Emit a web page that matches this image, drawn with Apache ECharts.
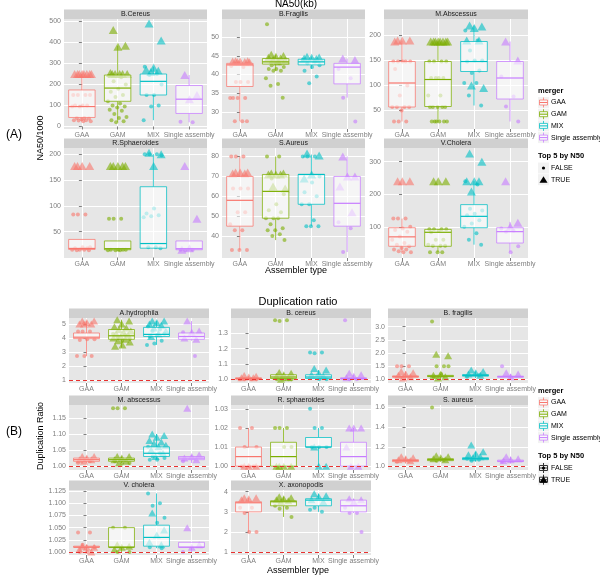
<!DOCTYPE html>
<html>
<head>
<meta charset="utf-8">
<script src="https://cdn.jsdelivr.net/npm/echarts@6/dist/echarts.min.js"></script>
<style>
  html, body {margin: 0; padding: 0; background: #fff;}
  #chart {width: 600px; height: 575px;}
</style>
</head>
<body>
<div id="chart"></div>
<script>
const GROUPS = ["GAA", "GAM", "MIX", "Single assembly"];
const GROUP_COLORS = ["#F8766D", "#7CAE00", "#00BFC4", "#C77CFF"];

// ---- (A) NA50(kb) ----
const NA50_FACETS = ["B.Cereus", "B.Fragilis", "M.Abscessus", "R.Sphaeroides", "S.Aureus", "V.Cholera"];
const NA50_RANGE = [[-12, 512], [25.4, 54.9], [13, 233], [-1, 212], [29, 84.3], [4, 342]];
const NA50_TICKS = [
  ["0", "100", "200", "300", "400", "500"],
  ["30", "35", "40", "45", "50"],
  ["50", "100", "150", "200"],
  ["50", "100", "150", "200"],
  ["40", "50", "60", "70", "80"],
  ["100", "200", "300"],
];
// [lower whisker, Q1, median, Q3, upper whisker] for GAA, GAM, MIX, Single assembly
const NA50_BOX = [
  [[25, 43, 95, 174, 250], [20, 120, 183, 245, 385], [30, 150, 215, 250, 285], [20, 62, 130, 195, 245]],
  [[27.5, 36.8, 42.6, 43.0, 43.6], [41, 42.8, 43.4, 44.3, 45.3], [41.5, 42.6, 43.4, 44.1, 44.8], [33.8, 37.5, 42, 43, 44.3]],
  [[28, 57, 105, 148, 190], [28, 58, 112, 148, 188], [60, 128, 148, 188, 220], [28, 73, 115, 148, 188]],
  [[14, 15.6, 17.5, 35, 35], [14, 15, 17, 32, 32], [18, 18, 27, 137, 200], [14, 15, 17, 32, 32]],
  [[33, 45, 58, 70, 80], [38, 49, 62.5, 71, 80], [45, 56, 71, 71, 81], [32, 45, 56.5, 70, 80]],
  [[22, 40, 69, 97, 125], [22, 40, 83, 92, 92], [45, 97, 132, 168, 240], [22, 50, 85, 97, 115]],
];
// points where Top 5 by N50 is FALSE
const NA50_FALSE = [
  [[150, 150, 150, 150, 100, 100, 100, 95, 95, 40, 40, 38, 35, 30, 30, 28, 25, 25],
   [240, 235, 215, 200, 180, 165, 150, 140, 120, 110, 100, 95, 90, 80, 75, 60, 45, 40, 30, 25, 20],
   [285, 250, 245, 200, 150, 150, 100, 95, 30],
   [22, 20]],
  [[42.3, 42, 38, 38, 38, 33.7, 33.7, 33.7, 33.7, 27.5, 27.5, 27.5],
   [53.5, 43, 42.5, 42, 41.5, 41.5, 41, 41, 39, 37.5, 37, 33.8],
   [44, 43.5, 43, 42.5, 42, 41, 39.5, 37.7],
   [41.5, 39, 33.8, 27.4]],
  [[148, 148, 148, 148, 148, 133, 100, 80, 57, 57, 57, 57, 50, 28, 28, 28],
   [148, 148, 148, 148, 115, 115, 115, 115, 80, 80, 57, 57, 57, 57, 57, 28, 28, 28, 28, 28, 28],
   [210, 190, 170, 150, 150, 148, 130, 125, 105, 105, 80, 60],
   [118, 78, 58, 28]],
  [[83, 83, 83, 20, 20, 18, 18, 15, 15, 15, 14, 14],
   [75, 75, 75, 15, 15, 15, 15, 14, 14, 14],
   [200, 200, 200, 198, 95, 85, 82, 80, 78, 20, 20, 18],
   [15, 15, 14]],
  [[80, 80, 80, 64, 64, 64, 52, 52, 46, 43, 43, 33, 33, 33],
   [80, 80, 69, 61, 56, 53, 52, 49, 49, 49, 46, 44, 43, 43, 41, 40, 38],
   [80, 80, 80, 70, 67, 62, 60, 56, 56, 48, 45, 45, 45],
   [47, 44, 32]],
  [[125, 125, 125, 100, 95, 90, 85, 70, 60, 50, 45, 40, 35, 30, 30, 25, 22, 22],
   [92, 92, 92, 92, 88, 83, 60, 60, 45, 42, 42, 42, 22, 22, 22],
   [240, 230, 155, 150, 140, 135, 120, 110, 100, 80, 60, 45],
   [95, 88, 85, 40, 22]],
];
// points where Top 5 by N50 is TRUE
const NA50_TRUE = [
  [[250, 250, 250, 250, 250, 250, 250, 250], [460, 385, 380, 255, 250, 250, 250, 250, 250], [490, 410, 280, 270, 265, 260], [245, 150, 130]],
  [[43.6, 43.6, 43.5, 43.5, 43.4, 43.4, 43.3], [45.3, 45, 44.8, 44.5, 44.3, 44, 43.8, 43.5], [44.8, 44.6, 44.5, 44.3, 44.2], [44.3, 43.9]],
  [[190, 190, 190, 188], [188, 188, 188, 188, 188, 188, 188, 188], [220, 218, 215, 190, 190, 100, 95], [188, 150]],
  [[177, 177, 177, 177], [177, 177, 177, 177, 177], [203, 200, 177], [177, 75, 18, 15]],
  [[72, 72, 72, 71.5, 71.5], [71.5, 71.5, 71, 71, 71, 65, 64], [81.5, 80.5, 71, 69], [80, 70, 70, 65, 52]],
  [[240, 240, 240], [240, 240, 240], [325, 300, 240, 240, 240, 208], [240, 112, 100]],
];

// ---- (B) Duplication ratio ----
const DUP_FACETS = ["A.hydrophila", "B. cereus", "B. fragilis", "M. abscessus", "R. sphaeroides", "S. aureus", "V. cholera", "X. axonopodis"];
const DUP_RANGE = [[0.78, 5.42], [0.976, 1.40], [0.86, 3.33], [0.988, 1.19], [0.998, 1.032], [0.965, 1.625], [0.994, 1.127], [0.87, 4.08]];
const DUP_TICKS = [
  ["1", "2", "3", "4", "5"],
  ["1.0", "1.1", "1.2", "1.3"],
  ["1.0", "1.5", "2.0", "2.5", "3.0"],
  ["1.00", "1.05", "1.10", "1.15"],
  ["1.00", "1.01", "1.02", "1.03"],
  ["1.0", "1.2", "1.4", "1.6"],
  ["1.000", "1.025", "1.050", "1.075", "1.100", "1.125"],
  ["1", "2", "3", "4"],
];
const DUP_BOX = [
  [[2.7, 3.95, 4.05, 4.35, 5.2], [3.3, 3.9, 4.15, 4.6, 5.3], [3.5, 4.1, 4.25, 4.75, 5.2], [3.8, 3.9, 4.1, 4.35, 5.2]],
  [[1.0, 1.0, 1.005, 1.01, 1.02], [1.0, 1.005, 1.015, 1.03, 1.04], [1.0, 1.005, 1.015, 1.03, 1.06], [1.0, 1.0, 1.005, 1.01, 1.03]],
  [[1.0, 1.08, 1.1, 1.13, 1.3], [1.0, 1.1, 1.12, 1.15, 1.2], [1.05, 1.12, 1.15, 1.18, 1.3], [1.0, 1.08, 1.1, 1.12, 1.2]],
  [[1.01, 1.015, 1.02, 1.025, 1.03], [1.01, 1.015, 1.02, 1.025, 1.03], [1.02, 1.03, 1.04, 1.06, 1.1], [1.01, 1.02, 1.025, 1.03, 1.035]],
  [[1.0, 1.0, 1.005, 1.01, 1.02], [1.0, 1.0, 1.005, 1.0125, 1.02], [1.0, 1.01, 1.01, 1.015, 1.02], [1.0, 1.0, 1.005, 1.0125, 1.02]],
  [[1.03, 1.05, 1.06, 1.07, 1.1], [1.05, 1.06, 1.07, 1.08, 1.1], [1.05, 1.07, 1.08, 1.09, 1.15], [1.03, 1.05, 1.055, 1.065, 1.1]],
  [[1.0, 1.01, 1.01, 1.012, 1.015], [1.0, 1.01, 1.01, 1.05, 1.05], [1.008, 1.012, 1.03, 1.055, 1.12], [1.0, 1.01, 1.01, 1.02, 1.02]],
  [[2.0, 3.0, 3.45, 3.5, 3.7], [2.75, 3.3, 3.5, 3.55, 3.75], [3.0, 3.3, 3.58, 3.65, 3.9], [2.95, 3.0, 3.3, 3.58, 3.65]],
];
const DUP_FALSE = [
  [[4.45, 4.45, 4.45, 3.9, 3.9, 3.85, 2.7, 2.7, 2.7], [4.3, 4.2, 4.0, 3.9, 3.8], [4.8, 4.6, 4.5, 4.3, 4.2, 4.1, 3.8, 3.6, 3.5], [4.4, 2.7]],
  [[1.0, 1.0, 1.0, 1.0], [1.385, 1.385, 1.38, 1.0, 1.0, 1.0, 1.0, 1.005], [1.175, 1.175, 1.17, 1.0, 1.0], [1.385, 1.0, 1.0]],
  [[1.5, 1.5, 1.5], [3.2, 1.5, 1.5, 1.5, 1.2, 1.1], [1.1, 1.15], [1.5]],
  [[1.01, 1.015], [1.18, 1.18, 1.18, 1.01, 1.01, 1.015], [1.06, 1.04, 1.03, 1.025, 1.02, 1.02], [1.015]],
  [[1.02, 1.02, 1.01, 1.01, 1.0, 1.0, 1.0], [1.02, 1.02, 1.02, 1.01, 1.01], [1.03, 1.02, 1.02, 1.01, 1.01, 1.01], []],
  [[1.05, 1.06], [1.6, 1.07, 1.06], [1.08, 1.07, 1.06], [1.05]],
  [[1.04, 1.04, 1.015, 1.01, 1.0, 1.0], [1.05, 1.05, 1.0, 1.0], [1.12, 1.1, 1.095, 1.07, 1.06, 1.01, 1.008], [1.0]],
  [[3.2, 3.2, 2.95, 2.0, 2.0], [3.3, 3.2, 3.15, 2.75], [3.1, 3.0, 3.2], [3.2, 2.95, 2.95, 2.0]],
];
const DUP_TRUE = [
  [[5.2, 5.2, 5.1, 5.0, 5.0, 5.0], [5.3, 5.2, 5.0, 4.8, 4.7, 4.6, 4.5, 4.4, 4.3, 4.2, 4.1, 4.0, 3.9, 3.8, 3.7, 3.5, 3.4], [5.2, 5.2, 5.1, 5.0, 4.9, 4.7, 4.5, 4.3, 4.1], [5.2, 4.5, 4.4, 4.0, 3.9]],
  [[1.025, 1.02, 1.015, 1.01, 1.01], [1.045, 1.04, 1.03, 1.02, 1.01, 1.0], [1.07, 1.06, 1.04, 1.03, 1.02], [1.04, 1.03, 1.02, 1.01]],
  [[1.3, 1.25, 1.2, 1.15, 1.1, 1.05], [1.95, 1.9, 1.2, 1.15, 1.1, 1.05], [1.35, 1.3, 1.25, 1.2, 1.15], [1.25, 1.2, 1.1]],
  [[1.03, 1.03, 1.025, 1.02, 1.02, 1.015], [1.03, 1.03, 1.025, 1.02, 1.015, 1.01], [1.1, 1.095, 1.09, 1.08, 1.075, 1.07, 1.065, 1.06, 1.05, 1.04, 1.03], [1.18, 1.035, 1.03, 1.025, 1.02]],
  [[1.0, 1.0, 1.0], [1.0, 1.0, 1.0, 1.0], [1.01, 1.0, 1.0], [1.02, 1.02, 1.02, 1.01, 1.0, 1.0]],
  [[1.1, 1.09, 1.08, 1.07, 1.06], [1.11, 1.1, 1.09, 1.08, 1.07], [1.22, 1.15, 1.13, 1.12, 1.1, 1.09], [1.1, 1.08, 1.07, 1.06]],
  [[1.012, 1.01, 1.01, 1.005, 1.0], [1.015, 1.012, 1.01, 1.005], [1.08, 1.045, 1.035, 1.02, 1.015], [1.05, 1.015, 1.01]],
  [[3.7, 3.7, 3.65, 3.6], [3.75, 3.7, 3.65, 3.6, 3.55, 3.5], [3.9, 3.8, 3.75, 3.6, 3.5], [3.65, 3.6, 3.5]],
];

const FONT = '"Liberation Sans", Arial, sans-serif';
const AXIS_GREY = "#7F7F7F";
const PANEL_BG = "#E6E6E6";
const STRIP_BG = "#D0D0D0";

const A_LAYOUT = {cols: [[64, 207], [222, 365], [384, 528]], rows: [[19, 129], [148, 258]], tri: [9, 8]};
const B_LAYOUT = {cols: [[69, 209], [231, 371], [388, 528]], rows: [[318, 383], [405, 470], [490, 555]], tri: [8, 7]};

function alpha(hex, a) {
  const n = parseInt(hex.slice(1), 16);
  return `rgba(${n >> 16},${(n >> 8) & 255},${n & 255},${a})`;
}

// fixed spread so points with the same value don't sit on top of each other
const spread = (k, seed) => ((((k + seed) * 0.618034) % 1) - 0.5) * 0.55;

const grids = [];
const xAxes = [];
const yAxes = [];
const series = [];
const graphics = [];

function text(str, x, y, opts) {
  opts = opts || {};
  return {
    type: "text", x, y, rotation: opts.rotation || 0, silent: true, z: 100,
    style: {
      text: str, font: `${opts.bold ? "bold " : ""}${opts.size || 8}px ${FONT}`,
      fill: opts.color || "#000", align: opts.align || "left", verticalAlign: "middle",
      textAlign: opts.align || "left", textVerticalAlign: "middle",
    },
  };
}

function boxItem(params, api) {
  const i = api.value(0);
  const color = GROUP_COLORS[i];
  const [xl, yMin] = api.coord([i - 0.37, api.value(1)]);
  const [xr, yQ1] = api.coord([i + 0.37, api.value(2)]);
  const yMed = api.coord([i, api.value(3)])[1];
  const yQ3 = api.coord([i, api.value(4)])[1];
  const [xc, yMax] = api.coord([i, api.value(5)]);
  const stroke = alpha(color, 0.75);
  return {
    type: "group",
    children: [
      {type: "line", shape: {x1: xc, y1: yQ3, x2: xc, y2: yMax}, style: {stroke, lineWidth: 1}},
      {type: "line", shape: {x1: xc, y1: yQ1, x2: xc, y2: yMin}, style: {stroke, lineWidth: 1}},
      {type: "rect", shape: {x: xl, y: yQ3, width: xr - xl, height: Math.max(yQ1 - yQ3, 0.5)},
        style: {fill: "rgba(255,255,255,0.6)", stroke, lineWidth: 1}},
      {type: "line", shape: {x1: xl, y1: yMed, x2: xr, y2: yMed}, style: {stroke: color, lineWidth: 1.2}},
    ],
  };
}

function addPanel(names, ranges, ticks, boxes, pFalse, pTrue, layout, refLine) {
  names.forEach((name, f) => {
    const g = grids.length;
    const [x0, x1] = layout.cols[f % 3];
    const [y0, y1] = layout.rows[Math.floor(f / 3)];
    grids.push({left: x0, top: y0, width: x1 - x0, height: y1 - y0, show: true,
      backgroundColor: PANEL_BG, borderWidth: 0});

    xAxes.push({
      gridIndex: g, type: "value", min: -0.5, max: 3.5,
      axisLine: {show: false},
      axisTick: {show: true, length: 3, customValues: [0, 1, 2, 3], lineStyle: {color: AXIS_GREY}},
      axisLabel: {customValues: [0, 1, 2, 3], formatter: v => GROUPS[Math.round(v)],
        color: AXIS_GREY, fontSize: 7, fontFamily: FONT, margin: 3},
      splitLine: {show: true, lineStyle: {color: "#FFFFFF", width: 1}},
    });

    const tv = ticks[f].map(Number);
    yAxes.push({
      gridIndex: g, type: "value", min: ranges[f][0], max: ranges[f][1],
      axisLine: {show: false},
      axisTick: {show: true, length: 3, customValues: tv, lineStyle: {color: AXIS_GREY}},
      axisLabel: {customValues: tv, color: AXIS_GREY, fontSize: 7, fontFamily: FONT, margin: 3,
        formatter: v => {
          const k = tv.findIndex(t => Math.abs(t - v) < 1e-9);
          return k >= 0 ? ticks[f][k] : "";
        }},
      splitLine: {show: true, lineStyle: {color: "#FFFFFF", width: 1}},
    });

    const circles = [];
    const triangles = [];
    GROUPS.forEach((grp, i) => {
      pFalse[f][i].forEach((y, k) => circles.push({value: [i + spread(k, 0.1), y], itemStyle: {color: GROUP_COLORS[i]}}));
      pTrue[f][i].forEach((y, k) => triangles.push({value: [i + spread(k, 0.45), y], itemStyle: {color: GROUP_COLORS[i]}}));
    });

    series.push({
      type: "scatter", xAxisIndex: g, yAxisIndex: g, symbol: "circle", symbolSize: 4,
      data: circles, itemStyle: {opacity: 0.6}, silent: true, z: 2,
    });
    const tri = {
      type: "scatter", xAxisIndex: g, yAxisIndex: g, symbol: "triangle", symbolSize: layout.tri,
      data: triangles, itemStyle: {opacity: 0.6}, silent: true, z: 2,
    };
    if (refLine !== undefined) {
      tri.markLine = {
        silent: true, symbol: "none", label: {show: false}, z: 6,
        lineStyle: {color: "#E8312F", type: [4, 3], width: 1.2},
        data: [{yAxis: refLine}],
      };
    }
    series.push(tri);
    series.push({
      type: "custom", xAxisIndex: g, yAxisIndex: g, silent: true, z: 3,
      data: boxes[f].map((b, i) => [i, ...b]),
      encode: {x: 0, y: [1, 2, 3, 4, 5]},
      renderItem: boxItem,
    });

    // facet strip
    graphics.push({type: "rect", silent: true, shape: {x: x0, y: y0 - 9.5, width: x1 - x0, height: 9.5},
      style: {fill: STRIP_BG}});
    graphics.push(text(name, (x0 + x1) / 2, y0 - 4.75, {align: "center", size: 7, color: "#1A1A1A"}));
  });
}

addPanel(NA50_FACETS, NA50_RANGE, NA50_TICKS, NA50_BOX, NA50_FALSE, NA50_TRUE, A_LAYOUT);
addPanel(DUP_FACETS, DUP_RANGE, DUP_TICKS, DUP_BOX, DUP_FALSE, DUP_TRUE, B_LAYOUT, 1);

// titles and axis titles
graphics.push(text("NA50(kb)", 296, 4.5, {align: "center", size: 10}));
graphics.push(text("Duplication ratio", 298, 302, {align: "center", size: 11}));
graphics.push(text("Assembler type", 296, 271, {align: "center", size: 9}));
graphics.push(text("Assembler type", 298, 571, {align: "center", size: 9}));
graphics.push(text("NA50/1000", 41, 138, {align: "center", size: 9, rotation: Math.PI / 2}));
graphics.push(text("Duplication Ratio", 41, 436, {align: "center", size: 9, rotation: Math.PI / 2}));
graphics.push(text("(A)", 14, 135, {align: "center", size: 12}));
graphics.push(text("(B)", 14, 432, {align: "center", size: 12}));

// legends
function legend(top, boxedShapes) {
  const kx = 538;
  graphics.push(text("merger", kx, top, {bold: true, size: 7.5}));
  GROUPS.forEach((grp, i) => {
    const cy = top + 11.5 + i * 11.7;
    const c = GROUP_COLORS[i];
    graphics.push({type: "rect", silent: true, shape: {x: kx, y: cy - 5.5, width: 11, height: 11}, style: {fill: "#F2F2F2"}});
    graphics.push({type: "line", silent: true, shape: {x1: kx + 5.5, y1: cy - 5, x2: kx + 5.5, y2: cy + 5}, style: {stroke: alpha(c, 0.75), lineWidth: 1}});
    graphics.push({type: "rect", silent: true, shape: {x: kx + 1.5, y: cy - 2.5, width: 8, height: 5}, style: {fill: "#FAFAFA", stroke: alpha(c, 0.75), lineWidth: 1}});
    graphics.push({type: "line", silent: true, shape: {x1: kx + 1.5, y1: cy, x2: kx + 9.5, y2: cy}, style: {stroke: c, lineWidth: 1}});
    graphics.push(text(grp, kx + 13, cy, {size: 7}));
  });
  const t2 = top + 65;
  graphics.push(text("Top 5 by N50", kx, t2, {bold: true, size: 7.5}));
  ["FALSE", "TRUE"].forEach((lab, i) => {
    const cy = t2 + 12 + i * 11.7;
    graphics.push({type: "rect", silent: true, shape: {x: kx, y: cy - 5.5, width: 11, height: 11}, style: {fill: "#F2F2F2"}});
    if (boxedShapes) {
      graphics.push({type: "line", silent: true, shape: {x1: kx + 5.5, y1: cy - 5, x2: kx + 5.5, y2: cy + 5}, style: {stroke: "#333", lineWidth: 1}});
      graphics.push({type: "rect", silent: true, shape: {x: kx + 1.5, y: cy - 2.5, width: 8, height: 5}, style: {fill: "none", stroke: "#333", lineWidth: 1}});
      graphics.push({type: "line", silent: true, shape: {x1: kx + 1.5, y1: cy, x2: kx + 9.5, y2: cy}, style: {stroke: "#333", lineWidth: 1}});
    }
    if (i === 0) {
      graphics.push({type: "circle", silent: true, shape: {cx: kx + 5.5, cy, r: 1.6}, style: {fill: "#000"}});
    } else {
      graphics.push({type: "polygon", silent: true, shape: {points: [[kx + 5.5, cy - 3.5], [kx + 9.5, cy + 3], [kx + 1.5, cy + 3]]}, style: {fill: "#000"}});
    }
    graphics.push(text(lab, kx + 13, cy, {size: 7}));
  });
}
legend(91, false);
legend(391, true);

const chart = echarts.init(document.getElementById("chart"));
chart.setOption({
  animation: false,
  backgroundColor: "#FFFFFF",
  grid: grids,
  xAxis: xAxes,
  yAxis: yAxes,
  series,
  graphic: graphics,
});
</script>
</body>
</html>
